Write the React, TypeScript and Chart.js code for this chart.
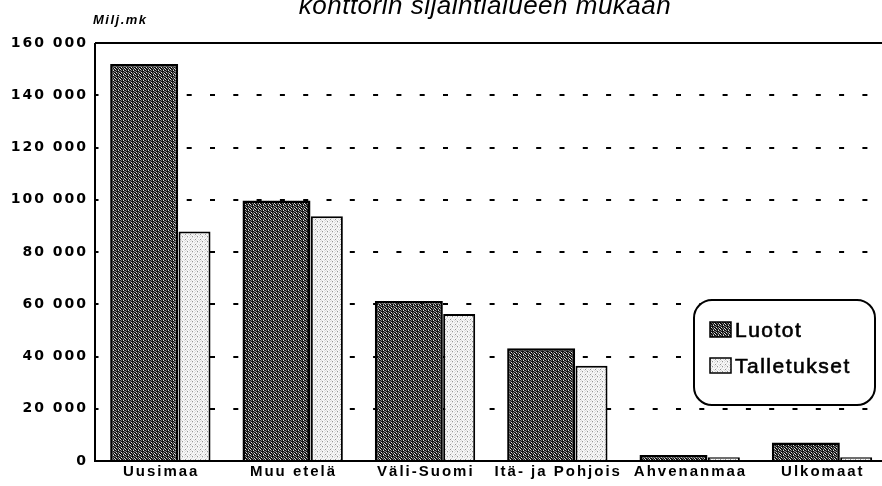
import React, { useEffect, useRef } from 'react';
import { Chart, registerables } from 'chart.js';

Chart.register(...registerables);

const categories = ['Uusimaa', 'Muu etelä', 'Väli-Suomi', 'Itä- ja Pohjois', 'Ahvenanmaa', 'Ulkomaat'];
const luotot = [152000, 99700, 61200, 43200, 2300, 7100];
const talletukset = [87800, 93700, 56300, 36500, 1400, 1400];
const seriesNames = ['Luotot', 'Talletukset'];
const yMin = 0;
const yMax = 160000;
const yStep = 20000;
const titleText = 'konttorin sijaintialueen mukaan';
const unitText = 'Milj.mk';

function makePattern(rows: string[], palette: Record<string, string>): CanvasPattern | string {
  const c = document.createElement('canvas');
  c.width = rows[0].length;
  c.height = rows.length;
  const g = c.getContext('2d');
  if (!g) return '#666';
  rows.forEach((r, y) => {
    r.split('').forEach((ch, x) => {
      g.fillStyle = palette[ch];
      g.fillRect(x, y, 1, 1);
    });
  });
  return g.createPattern(c, 'repeat') || '#666';
}

function fmt(v: number): string {
  return String(v).replace(/\B(?=(\d{3})+(?!\d))/g, ' ');
}

export default function App() {
  const ref = useRef<HTMLCanvasElement | null>(null);

  useEffect(() => {
    if (!ref.current) return;
    const darkFill = makePattern(
      ['KGKWK', 'GKKKG', 'KWKGK', 'KKGKW', 'WKKGK'],
      { K: '#141414', G: '#777777', W: '#dddddd' }
    );
    const lightFill = makePattern(
      ['WLWWL', 'LWDWW', 'WWLWL', 'WLWWW', 'DWWLW'],
      { W: '#f7f7f7', L: '#dcdcdc', D: '#959595' }
    );

    const spacing = {
      id: 'spacing',
      beforeLayout(chart: any) {
        chart.ctx.letterSpacing = '2px';
      },
      beforeDraw(chart: any) {
        chart.ctx.letterSpacing = '2px';
      },
    };

    const decor = {
      id: 'decor',
      afterDraw(chart: any) {
        const ctx = chart.ctx as CanvasRenderingContext2D;
        const area = chart.chartArea;
        ctx.save();
        ctx.strokeStyle = '#000';
        ctx.lineWidth = 2;
        ctx.beginPath();
        ctx.moveTo(area.left, area.top);
        ctx.lineTo(area.left, area.bottom);
        ctx.stroke();

        (ctx as any).letterSpacing = '0.5px';
        ctx.fillStyle = '#000';
        ctx.font = 'italic 26px "Liberation Sans", Arial, sans-serif';
        ctx.textAlign = 'center';
        ctx.textBaseline = 'alphabetic';
        ctx.fillText(titleText, 485, 14);

        (ctx as any).letterSpacing = '1.5px';
        ctx.font = 'italic bold 13px "Liberation Sans", Arial, sans-serif';
        ctx.textAlign = 'left';
        ctx.fillText(unitText, 93, 24);

        const lx = 694, ly = 300, lw = 181, lh = 105;
        ctx.beginPath();
        (ctx as any).roundRect(lx, ly, lw, lh, 18);
        ctx.fillStyle = '#fff';
        ctx.fill();
        ctx.lineWidth = 2;
        ctx.strokeStyle = '#000';
        ctx.stroke();

        const fills = [darkFill, lightFill];
        const rowsY = [322, 358];
        (ctx as any).letterSpacing = '1.5px';
        ctx.font = '21px "Liberation Sans", Arial, sans-serif';
        ctx.textBaseline = 'alphabetic';
        seriesNames.forEach((name, i) => {
          ctx.fillStyle = fills[i] as any;
          ctx.fillRect(710, rowsY[i], 21, 15);
          ctx.lineWidth = 1.5;
          ctx.strokeStyle = '#000';
          ctx.strokeRect(710, rowsY[i], 21, 15);
          ctx.fillStyle = '#000';
          ctx.lineWidth = 0.6;
          ctx.fillText(name, 735, rowsY[i] + 15);
          ctx.strokeText(name, 735, rowsY[i] + 15);
        });
        ctx.restore();
      },
    };

    const chart = new Chart(ref.current, {
      type: 'bar',
      data: {
        labels: categories,
        datasets: [
          {
            label: seriesNames[0],
            data: luotot,
            backgroundColor: darkFill as any,
            borderColor: '#000',
            borderWidth: 2.5,
            categoryPercentage: 0.514,
            barPercentage: 2,
          },
          {
            label: seriesNames[1],
            data: talletukset,
            backgroundColor: lightFill as any,
            borderColor: '#000',
            borderWidth: 2,
            categoryPercentage: 1.008,
            barPercentage: 0.48,
          },
        ],
      },
      options: {
        animation: false,
        responsive: false,
        devicePixelRatio: 1,
        layout: { padding: { top: 43, right: 11, bottom: 0, left: 0 } },
        plugins: {
          legend: { display: false },
          title: { display: false },
          tooltip: { enabled: false },
        },
        scales: {
          x: {
            grid: { display: false, drawTicks: false },
            border: { display: true, color: '#000', width: 2 },
            ticks: {
              autoSkip: false,
              maxRotation: 0,
              minRotation: 0,
              padding: 3,
              color: '#000',
              font: { family: '"Liberation Sans", Arial, sans-serif', size: 15, weight: 'bold', lineHeight: 1 },
            },
            afterFit: (s: any) => {
              s.height = 25;
            },
          },
          y: {
            min: yMin,
            max: yMax,
            grid: {
              drawTicks: false,
              lineWidth: 2,
              color: (c: any) => (c.tick && c.tick.value === yMin ? 'rgba(0,0,0,0)' : '#000'),
            },
            border: {
              display: false,
              dash: (c: any) => (c.tick && c.tick.value === yMax ? [] : [5, 18.3]),
              dashOffset: 1.5,
            },
            ticks: {
              stepSize: yStep,
              padding: 7,
              color: '#000',
              font: { family: '"DejaVu Sans", sans-serif', size: 14, weight: 'bold' },
              callback: (v: any) => fmt(Number(v)),
            },
            afterFit: (s: any) => {
              s.width = 95;
            },
          },
        },
      },
      plugins: [spacing, decor],
    } as any);

    return () => {
      chart.destroy();
    };
  }, []);

  return (
    <div style={{ position: 'fixed', left: 0, top: 0, width: 882, height: 486, overflow: 'hidden', background: '#fff' }}>
      <canvas ref={ref} width={900} height={486} style={{ display: 'block', width: 900, height: 486 }} />
    </div>
  );
}
